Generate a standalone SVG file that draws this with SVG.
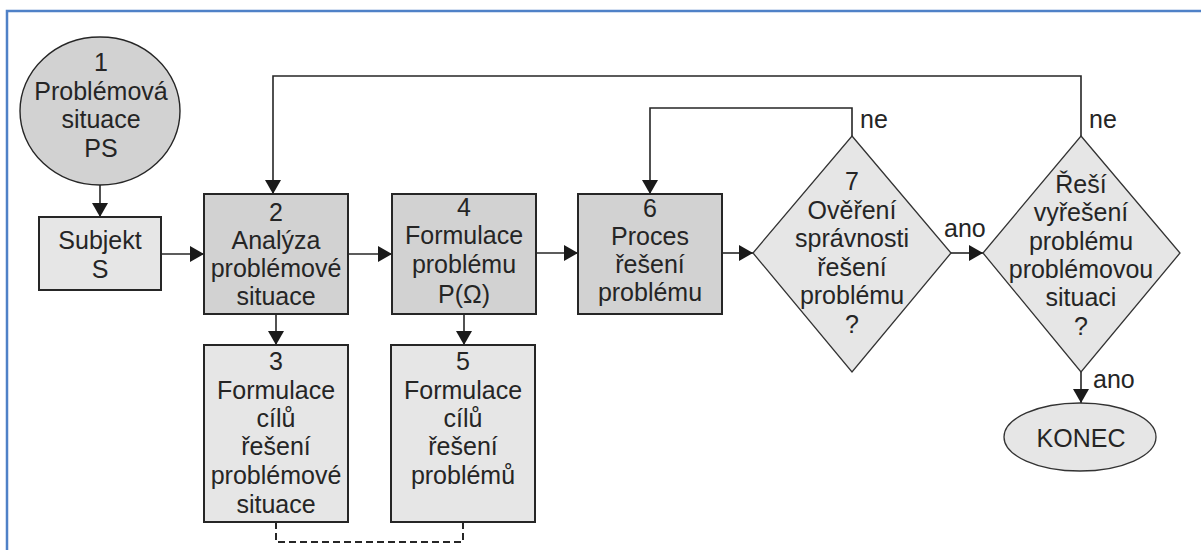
<svg xmlns="http://www.w3.org/2000/svg" width="1201" height="550" viewBox="0 0 1201 550">
<style>
text{font-family:"Liberation Sans",Arial,sans-serif;font-size:25px;fill:#252525;text-anchor:middle}
.lbl{text-anchor:start}
.dark{fill:#d2d2d2;stroke:#262626;stroke-width:2}
.light{fill:#e6e6e6;stroke:#262626;stroke-width:2}
.thin{fill:#e6e6e6;stroke:#333;stroke-width:1.3}
.con{fill:none;stroke:#262626;stroke-width:1.6}
.dash{fill:none;stroke:#262626;stroke-width:2;stroke-dasharray:7 4}
</style>
<defs>
<marker id="ah" markerUnits="userSpaceOnUse" markerWidth="15" markerHeight="16" refX="14" refY="8" orient="auto">
<path d="M0,0 L14,8 L0,16 z" fill="#1a1a1a"/>
</marker>
</defs>
<rect width="1201" height="550" fill="#fff"/>
<path d="M7,550 V11 H1201" fill="none" stroke="#4f81c7" stroke-width="2.5"/>
<g id="connectors">
<path class="con" d="M100,185 V217" marker-end="url(#ah)"/>
<path class="con" d="M161,254 H204" marker-end="url(#ah)"/>
<path class="con" d="M348,254 H392" marker-end="url(#ah)"/>
<path class="con" d="M536,253 H578" marker-end="url(#ah)"/>
<path class="con" d="M722,253 H753" marker-end="url(#ah)"/>
<path class="con" d="M951,253 H983" marker-end="url(#ah)"/>
<path class="con" d="M276,314 V345" marker-end="url(#ah)"/>
<path class="con" d="M464,314 V345" marker-end="url(#ah)"/>
<path class="con" d="M852,136 V108 H650 V194" marker-end="url(#ah)"/>
<path class="con" d="M1081,136 V76 H273 V194" marker-end="url(#ah)"/>
<path class="con" d="M1081,372 V403" marker-end="url(#ah)"/>
<path class="dash" d="M276,522 V542 H463 V522"/>
<text class="lbl" x="860" y="128">ne</text>
<text class="lbl" x="1089" y="128">ne</text>
<text class="lbl" x="944" y="237">ano</text>
<text class="lbl" x="1093" y="388">ano</text>
</g>
<g id="n1">
<ellipse class="dark" cx="100" cy="111" rx="80" ry="74" style="stroke-width:1.4"/>
<text x="101" y="71">1</text>
<text x="101" y="100">Problémová</text>
<text x="101" y="128">situace</text>
<text x="101" y="157">PS</text>
</g>
<g id="subjekt">
<rect class="light" x="39" y="217" width="122" height="73"/>
<text x="100" y="249">Subjekt</text>
<text x="100" y="278">S</text>
</g>
<g id="n2">
<rect class="dark" x="204" y="194" width="144" height="120"/>
<text x="276" y="221">2</text>
<text x="276" y="249">Analýza</text>
<text x="276" y="277">problémové</text>
<text x="276" y="305">situace</text>
</g>
<g id="n4">
<rect class="dark" x="392" y="194" width="144" height="120"/>
<text x="464" y="216">4</text>
<text x="464" y="244">Formulace</text>
<text x="464" y="273">problému</text>
<text x="464" y="303">P(Ω)</text>
</g>
<g id="n6">
<rect class="dark" x="578" y="194" width="144" height="120"/>
<text x="650" y="217">6</text>
<text x="650" y="245">Proces</text>
<text x="650" y="273">řešení</text>
<text x="650" y="301">problému</text>
</g>
<g id="n3">
<rect class="light" x="204" y="345" width="144" height="177"/>
<text x="276" y="370">3</text>
<text x="276" y="399">Formulace</text>
<text x="276" y="427">cílů</text>
<text x="276" y="455">řešení</text>
<text x="276" y="484">problémové</text>
<text x="276" y="513">situace</text>
</g>
<g id="n5">
<rect class="light" x="391" y="345" width="144" height="177"/>
<text x="463" y="370">5</text>
<text x="463" y="399">Formulace</text>
<text x="463" y="427">cílů</text>
<text x="463" y="455">řešení</text>
<text x="463" y="484">problémů</text>
</g>
<g id="n7">
<path class="thin" d="M852,136 L951,253 L852,372 L753,253 z"/>
<text x="852" y="190">7</text>
<text x="852" y="219">Ověření</text>
<text x="852" y="247">správnosti</text>
<text x="852" y="276">řešení</text>
<text x="852" y="304">problému</text>
<text x="852" y="333">?</text>
</g>
<g id="n8">
<path class="thin" d="M1081,136 L1180,253 L1081,372 L983,253 z"/>
<text x="1081" y="193">Řeší</text>
<text x="1081" y="221">vyřešení</text>
<text x="1081" y="250">problému</text>
<text x="1081" y="278">problémovou</text>
<text x="1081" y="306">situaci</text>
<text x="1081" y="335">?</text>
</g>
<g id="konec">
<ellipse class="thin" cx="1080" cy="437" rx="76" ry="34"/>
<text x="1081" y="447">KONEC</text>
</g>
</svg>
